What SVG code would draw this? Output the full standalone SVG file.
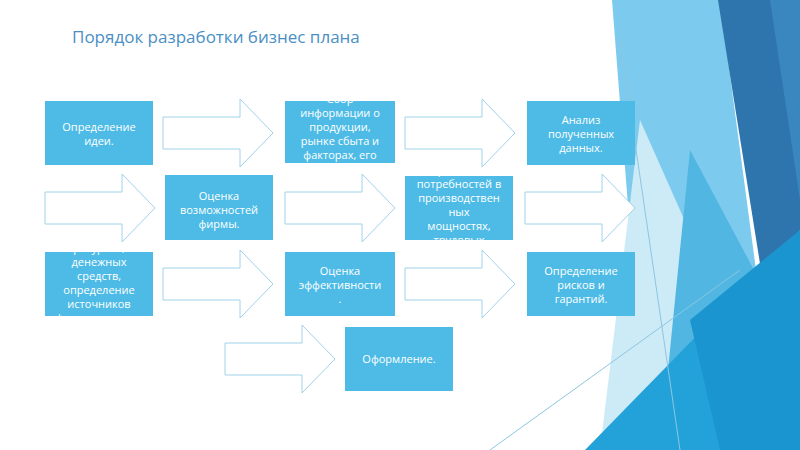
<svg xmlns="http://www.w3.org/2000/svg" width="800" height="450" viewBox="0 0 800 450">
<defs>
<style>
.b{fill:#4dbbe6}
.a{fill:#fff;stroke:#9fd2ea;stroke-width:1}
.t{fill:#fff;font-family:"Open Sans","DejaVu Sans",sans-serif;font-size:11px;text-anchor:middle}
</style>
<path id="arr" d="M0,18 H77 V0 L110,34 L77,68 V50 H0 Z"/>
<clipPath id="c1"><rect x="285" y="101" width="110" height="62"/></clipPath>
<clipPath id="c2"><rect x="405" y="176" width="108" height="64"/></clipPath>
<clipPath id="c3"><rect x="45" y="252" width="108" height="64"/></clipPath>
</defs>
<rect width="800" height="450" fill="#fff"/>
<g id="bg">
<polygon points="612,0 720,0 760,300 640,360" fill="#7ccbee"/>
<polygon points="640,120 720,300 700,450 600,450" fill="#cdeaf7"/>
<polygon points="690,150 770,300 740,450 660,450" fill="#52b6e3"/>
<polygon points="718,0 800,0 800,230 765,295" fill="#2e74ad"/>
<polygon points="770,0 800,0 800,200" fill="#3a86bf"/>
<polygon points="585,450 800,230 800,450" fill="#23a2da"/>
<polygon points="690,320 800,230 800,450 720,450" fill="#1b95cf"/>
<line x1="620" y1="40" x2="680" y2="450" stroke="#8cc6e0" stroke-width="1"/>
<line x1="490" y1="450" x2="740" y2="270" stroke="#8cc6e0" stroke-width="1"/>
</g>
<text x="72" y="43" font-family="'Open Sans','DejaVu Sans',sans-serif" font-size="17" fill="#4a8fc4">Порядок разработки бизнес плана</text>
<g id="connectors">
<use href="#arr" class="a" x="163" y="99"/>
<use href="#arr" class="a" x="405" y="99"/>
<use href="#arr" class="a" x="45" y="174"/>
<use href="#arr" class="a" x="285" y="174"/>
<use href="#arr" class="a" x="525" y="174"/>
<use href="#arr" class="a" x="163" y="250"/>
<use href="#arr" class="a" x="405" y="250"/>
<use href="#arr" class="a" x="225" y="325"/>
</g>
<g id="n1"><rect class="b" x="45" y="101" width="108" height="64"/><text class="t" x="99" y="131">Определение</text><text class="t" x="99" y="145">идеи.</text></g>
<g id="n2" clip-path="url(#c1)"><rect class="b" x="285" y="101" width="110" height="62"/><text class="t" x="340" y="103">Сбор</text><text class="t" x="340" y="117">информации о</text><text class="t" x="340" y="131">продукции,</text><text class="t" x="340" y="145">рынке сбыта и</text><text class="t" x="340" y="159">факторах, его</text></g>
<g id="n3"><rect class="b" x="527" y="101" width="108" height="64"/><text class="t" x="581" y="124">Анализ</text><text class="t" x="581" y="138">полученных</text><text class="t" x="581" y="152">данных.</text></g>
<g id="n4"><rect class="b" x="165" y="175" width="108" height="65"/><text class="t" x="219" y="200">Оценка</text><text class="t" x="219" y="214">возможностей</text><text class="t" x="219" y="228">фирмы.</text></g>
<g id="n5" clip-path="url(#c2)"><rect class="b" x="405" y="176" width="108" height="64"/><text class="t" x="459" y="174">Определение</text><text class="t" x="459" y="188">потребностей в</text><text class="t" x="459" y="202">производствен</text><text class="t" x="459" y="216">ных</text><text class="t" x="459" y="230">мощностях,</text><text class="t" x="459" y="244">трудовых</text></g>
<g id="n6" clip-path="url(#c3)"><rect class="b" x="45" y="252" width="108" height="64"/><text class="t" x="99" y="252">ресурсов,</text><text class="t" x="99" y="266">денежных</text><text class="t" x="99" y="280">средств,</text><text class="t" x="99" y="294">определение</text><text class="t" x="99" y="308">источников</text><text class="t" x="99" y="322">финансировани</text></g>
<g id="n7"><rect class="b" x="285" y="252" width="110" height="64"/><text class="t" x="340" y="275">Оценка</text><text class="t" x="340" y="289">эффективности</text><text class="t" x="340" y="303">.</text></g>
<g id="n8"><rect class="b" x="527" y="252" width="108" height="64"/><text class="t" x="581" y="275">Определение</text><text class="t" x="581" y="289">рисков и</text><text class="t" x="581" y="303">гарантий.</text></g>
<g id="n9"><rect class="b" x="345" y="327" width="108" height="64"/><text class="t" x="399" y="363">Оформление.</text></g>
</svg>
